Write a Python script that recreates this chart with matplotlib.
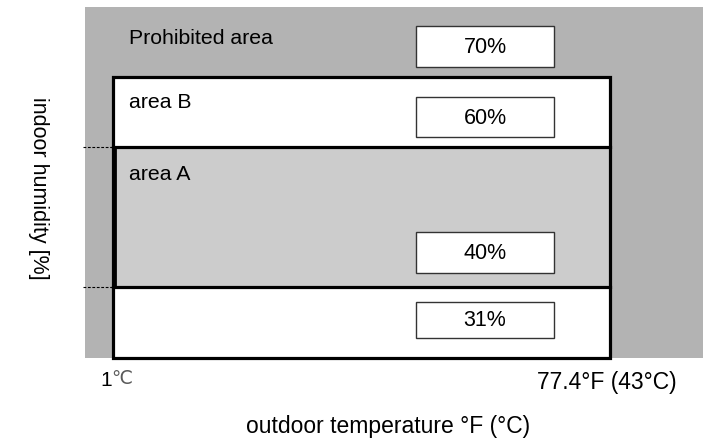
#!/usr/bin/env python3
import matplotlib
matplotlib.use("Agg")
import matplotlib.pyplot as plt
from matplotlib.patches import Rectangle

# humidity limits shown in the boxes, bottom to top
humidity_labels = ["31%", "40%", "60%", "70%"]
# name of each band, bottom to top
area_names = ["", "area A", "area B", "Prohibited area"]
temp_low_value = "1"
temp_low_unit = "℃"
temp_high_label = "77.4°F (43°C)"
x_title = "outdoor temperature °F (°C)"
y_title = "indoor humidity [%]"

# layout (pixel canvas, y down)
band_edges = [358, 287, 147, 77, 7]
band_colors = ["white", "#cccccc", "white", "#b3b3b3"]
label_box_tops = [302, 232, 97, 26]
label_box_bottoms = [338, 273, 137, 67]
box_left, box_right = 113, 610
gray_left, gray_right = 85, 703
label_box_left, label_box_right = 416, 554

plt.rcParams['font.family'] = ['Liberation Sans', 'DejaVu Sans']

fig = plt.figure(figsize=(7.12, 4.4), dpi=100)
ax = fig.add_axes([0, 0, 1, 1])
ax.set_xlim(0, 712)
ax.set_ylim(440, 0)
ax.axis('off')

# prohibited (gray) background
ax.add_patch(Rectangle((gray_left, band_edges[-1]), gray_right - gray_left,
                       band_edges[0] - band_edges[-1], facecolor="#b3b3b3",
                       edgecolor="none", zorder=0))

# operating bands inside the outer box
for i in range(3):
    top = band_edges[i + 1]
    bottom = band_edges[i]
    ax.add_patch(Rectangle((box_left, top), box_right - box_left, bottom - top,
                           facecolor=band_colors[i], edgecolor="none", zorder=1))

# outer box and band separators
ax.add_patch(Rectangle((box_left, band_edges[3]), box_right - box_left,
                       band_edges[0] - band_edges[3], facecolor="none",
                       edgecolor="black", lw=2.3, zorder=3))
for y in band_edges[1:3]:
    ax.plot([box_left, box_right], [y, y], color="black", lw=2.3, zorder=3)
    ax.plot([83, box_left], [y, y], color="black", lw=0.8, ls=(0, (2.5, 1.5)), zorder=3)
# slightly heavier left edge of area A
ax.plot([box_left + 1.5, box_left + 1.5], [band_edges[1], band_edges[2]],
        color="black", lw=2.0, zorder=3)

# humidity label boxes
for lab, top, bottom in zip(humidity_labels, label_box_tops, label_box_bottoms):
    ax.add_patch(Rectangle((label_box_left, top), label_box_right - label_box_left,
                           bottom - top, facecolor="white", edgecolor="#333333",
                           lw=1.0, zorder=4))
    ax.text((label_box_left + label_box_right) / 2, (top + bottom) / 2 + 1, lab,
            ha="center", va="center", fontsize=15.5, zorder=5)

# area names
name_y = [None, 174, 103, 38]
for name, y in zip(area_names, name_y):
    if name:
        ax.text(129, y, name, ha="left", va="center", fontsize=15.3, zorder=5)

# temperature limits
ax.text(100, 380, temp_low_value, ha="left", va="center", fontsize=15)
ax.text(111, 378, temp_low_unit, ha="left", va="center", fontsize=13.5,
        color="#5a5a5a", family=['DejaVu Sans'])
ax.text(677, 382, temp_high_label, ha="right", va="center", fontsize=16.5)

# axis titles
ax.text(388, 426, x_title, ha="center", va="center", fontsize=16.5)
ax.text(38, 188, y_title, ha="center", va="center", fontsize=15.5, rotation=-90)

fig.savefig("out.png", dpi=100)
